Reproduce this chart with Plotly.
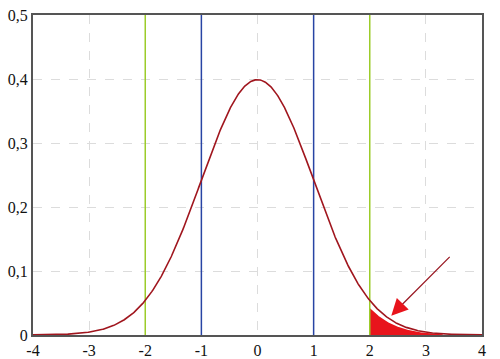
import math
import numpy as np
import plotly.graph_objects as go

# Distribution parameters
mean = 0.0
sd = 1.0

# Axis ticks
x_ticks = [-4, -3, -2, -1, 0, 1, 2, 3, 4]
y_ticks = [0, 0.1, 0.2, 0.3, 0.4, 0.5]
y_tick_labels = ["0", "0,1", "0,2", "0,3", "0,4", "0,5"]

# Reference lines
green_lines = [-2, 2]
blue_lines = [-1, 1]

# Shaded tail region
tail_start = 2.0
tail_end = 3.3
tail_gap = 0.12  # shaded area sits slightly below the curve

# Arrow (data coordinates)
arrow_tail = (3.451, 0.1244)
arrow_base = (2.560, 0.0462)
arrow_tip = (2.384, 0.0302)


def pdf(x):
    return np.exp(-0.5 * ((x - mean) / sd) ** 2) / (sd * math.sqrt(2 * math.pi))


xs = np.linspace(-4, 4, 801)
ys = pdf(xs)

xt = np.linspace(tail_start, tail_end, 200)
yt = pdf(xt + tail_gap)

fig = go.Figure()

fig.add_trace(go.Scatter(x=xt, y=yt, mode="lines", line=dict(width=0),
                         fill="tozeroy", fillcolor="#e8141c", hoverinfo="skip"))

for gx in green_lines:
    fig.add_trace(go.Scatter(x=[gx, gx], y=[0, 0.5], mode="lines",
                             line=dict(color="#9ccc2a", width=1.5)))
for bx in blue_lines:
    fig.add_trace(go.Scatter(x=[bx, bx], y=[0, 0.5], mode="lines",
                             line=dict(color="#2844a4", width=1.5)))

fig.add_trace(go.Scatter(x=xs, y=ys, mode="lines",
                         line=dict(color="#a0161e", width=1.6)))

# arrow shaft
fig.add_annotation(x=arrow_base[0], y=arrow_base[1], ax=arrow_tail[0], ay=arrow_tail[1],
                   xref="x", yref="y", axref="x", ayref="y", text="",
                   showarrow=True, arrowhead=0, arrowcolor="#9a1a24", arrowwidth=1.3)
# arrow head
fig.add_annotation(x=arrow_tip[0], y=arrow_tip[1], ax=arrow_base[0], ay=arrow_base[1],
                   xref="x", yref="y", axref="x", ayref="y", text="",
                   showarrow=True, arrowhead=2, arrowsize=2.2, arrowwidth=1.5,
                   arrowcolor="#e8141c")

axis_font = dict(family="Liberation Serif", size=16, color="#111111")

fig.update_layout(
    width=500, height=359,
    margin=dict(l=33, r=17.5, t=15, b=24),
    paper_bgcolor="white", plot_bgcolor="white",
    font=axis_font,
    showlegend=False,
    xaxis=dict(range=[-4, 4], tickvals=x_ticks, ticktext=[str(v) for v in x_ticks],
               showgrid=True, gridcolor="#dcdcdc", griddash="dash", gridwidth=1,
               zeroline=False, showline=True, linecolor="#555", linewidth=2, mirror=True,
               ticks="", tickfont=axis_font, automargin=False),
    yaxis=dict(range=[0, 0.5], tickvals=y_ticks, ticktext=y_tick_labels,
               showgrid=True, gridcolor="#dcdcdc", griddash="dash", gridwidth=1,
               zeroline=False, showline=True, linecolor="#555", linewidth=2, mirror=True,
               ticks="", tickfont=axis_font, automargin=False),
)

fig.write_html("out.html")
